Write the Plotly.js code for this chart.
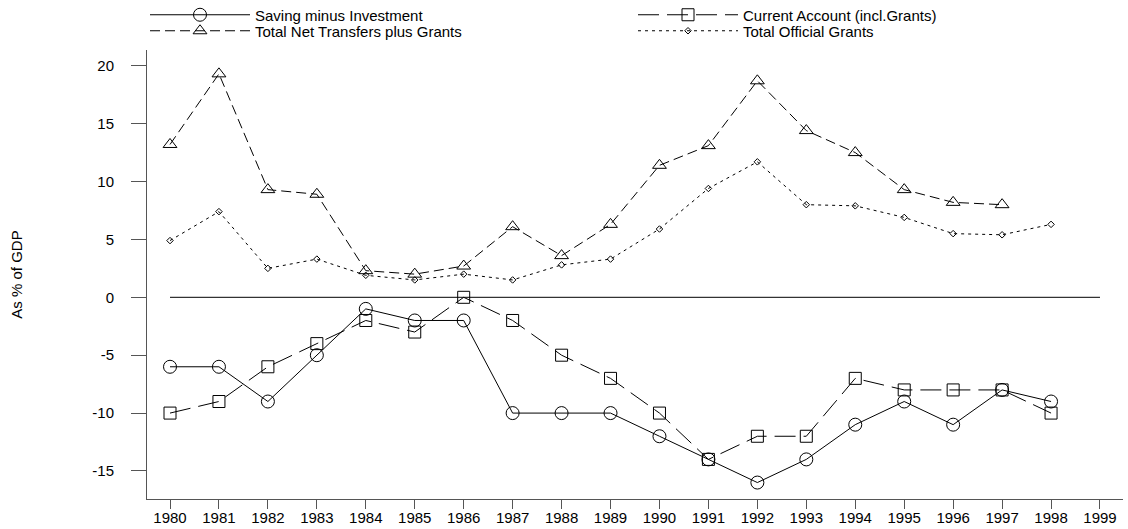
<!DOCTYPE html>
<html>
<head>
<meta charset="utf-8">
<script src="https://cdn.plot.ly/plotly-3.0.1.min.js"></script>
<style>html,body{margin:0;padding:0;background:#fff;}#chart{width:1128px;height:529px;}</style>
</head>
<body>
<div id="chart"></div>
<script>
// Data
const years = [1980,1981,1982,1983,1984,1985,1986,1987,1988,1989,1990,1991,1992,1993,1994,1995,1996,1997,1998];
const tickYears = [1980,1981,1982,1983,1984,1985,1986,1987,1988,1989,1990,1991,1992,1993,1994,1995,1996,1997,1998,1999];
const savingMinusInvestment = [-6,-6,-9,-5,-1,-2,-2,-10,-10,-10,-12,-14,-16,-14,-11,-9,-11,-8,-9];
const currentAccount = [-10,-9,-6,-4,-2,-3,0,-2,-5,-7,-10,-14,-12,-12,-7,-8,-8,-8,-10];
const netTransfersPlusGrants = [13.2,19.3,9.3,8.9,2.3,2.0,2.7,6.1,3.6,6.3,11.4,13.1,18.7,14.4,12.5,9.3,8.2,8.0,null];
const officialGrants = [4.9,7.4,2.5,3.3,1.9,1.5,2.0,1.5,2.8,3.3,5.9,9.4,11.7,8.0,7.9,6.9,5.5,5.4,6.3];
const yTicks = [-15,-10,-5,0,5,10,15,20];
const names = ['Saving minus Investment','Current Account (incl.Grants)','Total Net Transfers plus Grants','Total Official Grants'];

const FONT = "'Liberation Sans', Arial, Helvetica, sans-serif";
const AX = '#555555';

const traces = [
  {x: years, y: savingMinusInvestment, name: names[0], legend: 'legend', type: 'scatter', mode: 'lines+markers',
   line: {color: '#000', width: 1}, marker: {symbol: 'circle-open', size: 13, color: '#000', line: {width: 1}}},
  {x: years, y: currentAccount, name: names[1], legend: 'legend2', type: 'scatter', mode: 'lines+markers',
   line: {color: '#000', width: 1, dash: '21px,8px'}, marker: {symbol: 'square-open', size: 12, color: '#000', line: {width: 1}}},
  {x: years, y: netTransfersPlusGrants, name: names[2], legend: 'legend3', type: 'scatter', mode: 'lines+markers',
   line: {color: '#000', width: 1, dash: '10px,5px'}, marker: {symbol: 'triangle-up-open', size: 12, color: '#000', line: {width: 1}}},
  {x: years, y: officialGrants, name: names[3], legend: 'legend4', type: 'scatter', mode: 'lines+markers',
   line: {color: '#000', width: 1, dash: '3px,4px'}, marker: {symbol: 'diamond-open', size: 5, color: '#000', line: {width: 1}}}
];

function leg(xpx, ypx) {
  return {
    orientation: 'h', xref: 'container', yref: 'container', xanchor: 'left', yanchor: 'middle',
    x: xpx / 1128, y: 1 - ypx / 529, itemwidth: 100,
    bgcolor: 'rgba(0,0,0,0)', borderwidth: 0, font: {family: FONT, size: 15, color: '#000'}
  };
}

const layout = {
  width: 1128, height: 529, autosize: false,
  margin: {l: 147, r: 5, t: 50, b: 30, pad: 0},
  paper_bgcolor: '#fff', plot_bgcolor: '#fff',
  font: {family: FONT, size: 15, color: '#000'},
  showlegend: true,
  legend: leg(145, 15),
  legend2: leg(633, 15),
  legend3: leg(145, 31),
  legend4: leg(633, 31),
  xaxis: {
    range: [1979.53, 1999.47], tickmode: 'array', tickvals: tickYears, ticktext: tickYears.map(String),
    ticks: 'outside', ticklen: 9, tickwidth: 1, tickcolor: AX, showline: true, linecolor: AX, linewidth: 1,
    showgrid: false, zeroline: false, tickfont: {family: FONT, size: 15, color: '#000'}, ticklabelstandoff: -4, fixedrange: true
  },
  yaxis: {
    range: [-17.42, 21.36], tickmode: 'array', tickvals: yTicks, ticktext: yTicks.map(String),
    ticks: 'outside', ticklen: 15, tickwidth: 1, tickcolor: AX, showline: true, linecolor: AX, linewidth: 1,
    showgrid: false, zeroline: false, tickfont: {family: FONT, size: 15, color: '#000'}, ticklabelstandoff: 14,
    title: {text: 'As % of GDP', font: {family: FONT, size: 15, color: '#000'}, standoff: 66}, fixedrange: true
  },
  shapes: [{type: 'line', xref: 'x', yref: 'y', x0: tickYears[0], x1: tickYears[tickYears.length-1], y0: 0, y1: 0,
            line: {color: '#000', width: 1}}]
};

Plotly.newPlot('chart', traces, layout, {displayModeBar: false, staticPlot: true});
</script>
</body>
</html>
